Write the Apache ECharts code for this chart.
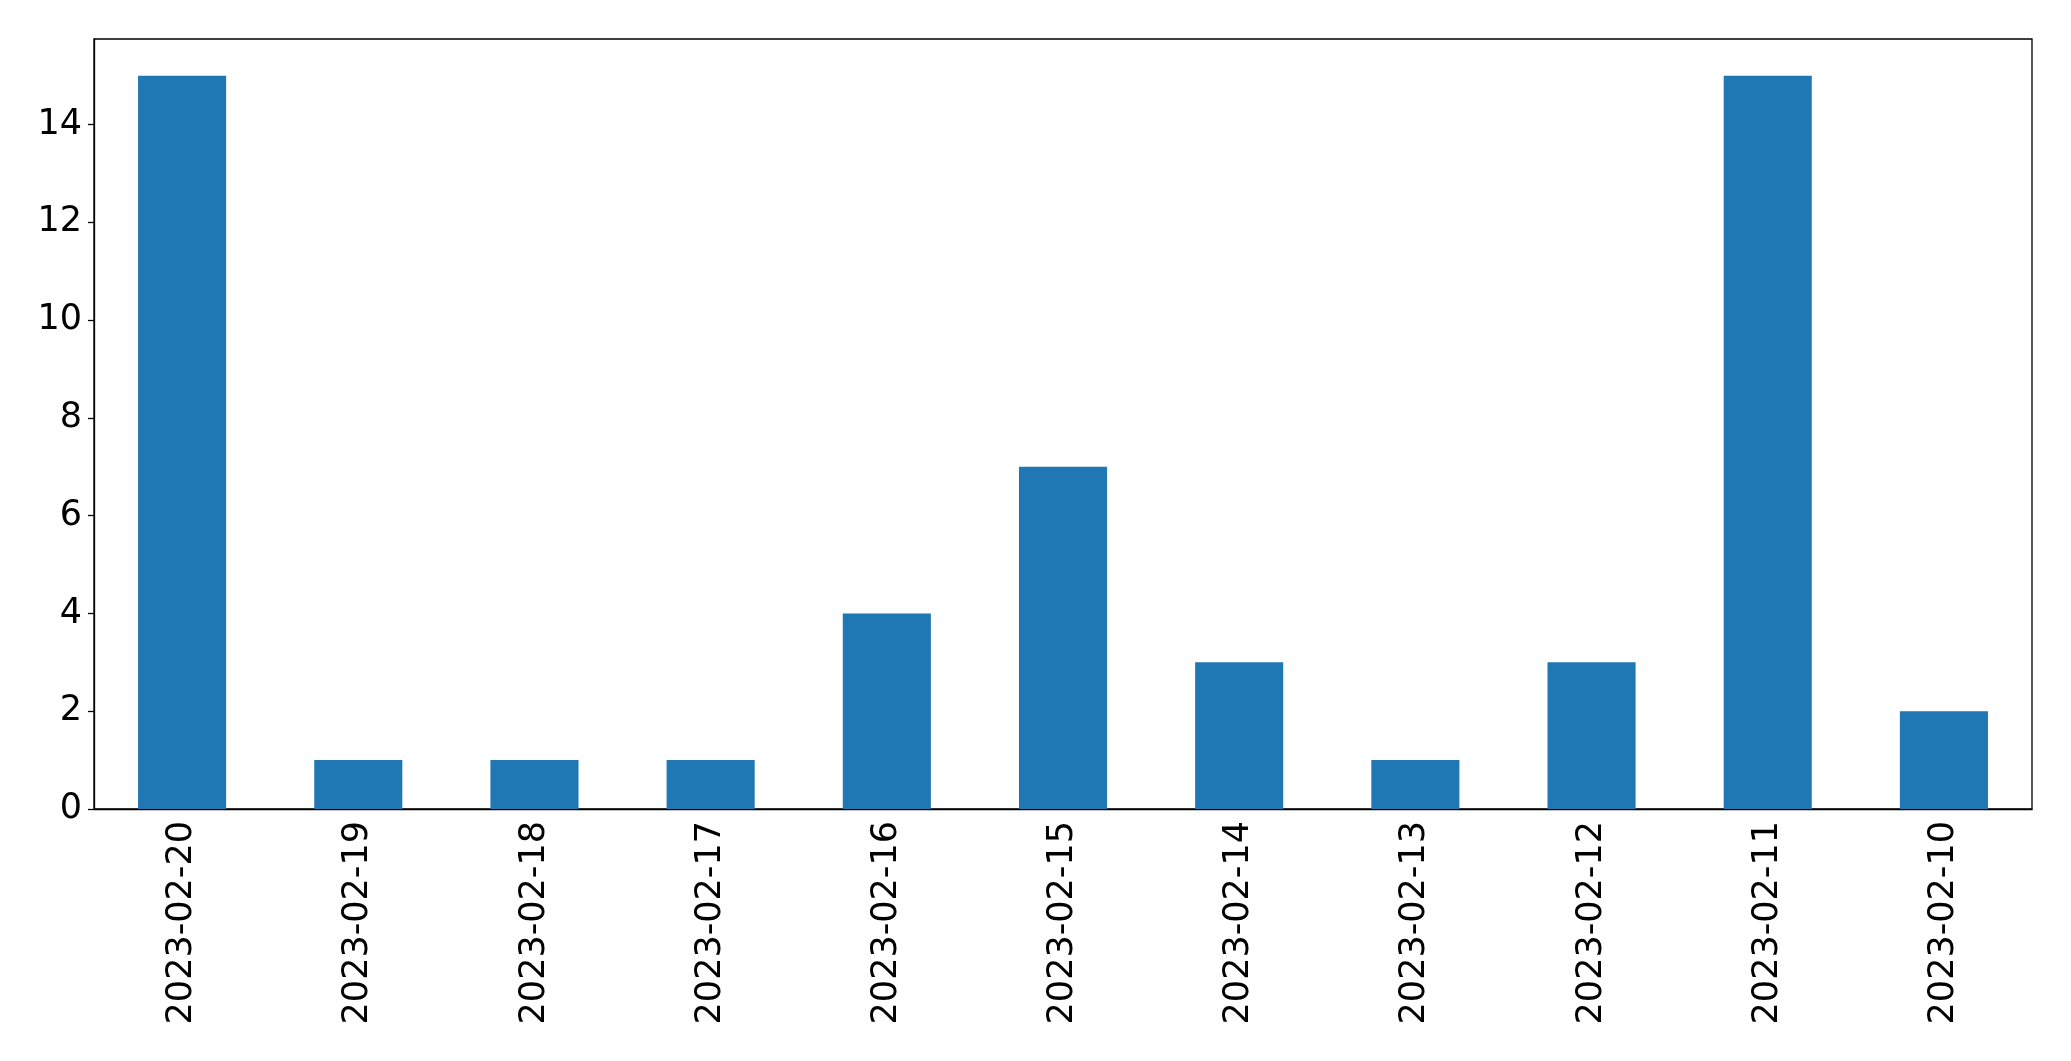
<!DOCTYPE html>
<html>
<head>
<meta charset="utf-8">
<script src="https://cdn.jsdelivr.net/npm/echarts@6/dist/echarts.min.js"></script>
<style>
html,body{margin:0;padding:0;background:#fff;}
#chart{width:2071px;height:1061px;}
</style>
</head>
<body>
<div id="chart"></div>
<script>
const categories = ["2023-02-20","2023-02-19","2023-02-18","2023-02-17","2023-02-16","2023-02-15","2023-02-14","2023-02-13","2023-02-12","2023-02-11","2023-02-10"];
const values = [15, 1, 1, 1, 4, 7, 3, 1, 3, 15, 2];
const yTicks = [0, 2, 4, 6, 8, 10, 12, 14];

const chart = echarts.init(document.getElementById('chart'), null, {renderer: 'canvas'});
const font = "DejaVu Sans";
chart.setOption({
  animation: false,
  backgroundColor: '#ffffff',
  grid: {left: 94, right: 39, top: 39, bottom: 252, show: true, borderColor: '#000', borderWidth: 1.3, backgroundColor: 'transparent'},
  xAxis: {
    type: 'category',
    data: categories,
    boundaryGap: true,
    axisLine: {lineStyle: {color: '#000', width: 1.3}},
    axisTick: {alignWithLabel: true, length: 6, lineStyle: {color: '#000', width: 1.3}},
    axisLabel: {rotate: 90, margin: 12, fontFamily: font, fontSize: 35, color: '#000', interval: 0}
  },
  yAxis: {
    type: 'value',
    min: 0,
    max: 15.75,
    interval: 2,
    splitLine: {show: false},
    axisLine: {show: true, lineStyle: {color: '#000', width: 1.3}},
    axisTick: {show: true, length: 6, lineStyle: {color: '#000', width: 1.3}},
    axisLabel: {
      margin: 12, fontFamily: font, fontSize: 35, color: '#000',
      showMaxLabel: false,
      formatter: v => yTicks.includes(v) ? String(v) : ''
    }
  },
  series: [{
    type: 'bar',
    data: values,
    barWidth: '50%',
    itemStyle: {color: '#1f77b4'}
  }]
});
</script>
</body>
</html>
